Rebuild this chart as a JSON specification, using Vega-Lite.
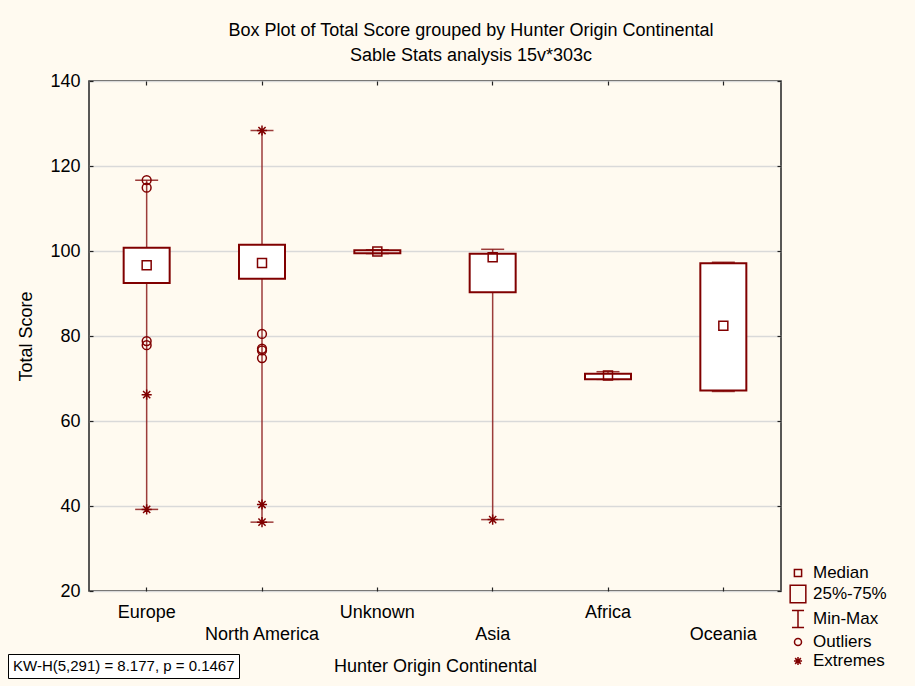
{
  "$schema": "https://vega.github.io/schema/vega-lite/v6.json",
  "width": 692,
  "height": 510,
  "autosize": {"type": "none"},
  "padding": {"left": 89, "top": 81, "right": 134, "bottom": 95},
  "background": "#fffaf0",
  "title": {
    "text": "Box Plot of Total Score grouped by  Hunter Origin Continental",
    "subtitle": "Sable Stats analysis 15v*303c",
    "font": "Liberation Sans",
    "subtitleFont": "Liberation Sans",
    "fontSize": 18,
    "subtitleFontSize": 18,
    "fontWeight": "normal",
    "color": "#000000",
    "subtitleColor": "#000000",
    "anchor": "middle",
    "dx": 36,
    "offset": 7,
    "subtitlePadding": 7
  },
  "config": {
    "font": "Liberation Sans",
    "view": {"fill": "white", "stroke": "#222222", "strokeWidth": 1.5},
    "axis": {
      "labelFont": "Liberation Sans",
      "titleFont": "Liberation Sans",
      "labelFontSize": 18,
      "titleFontSize": 18,
      "titleFontWeight": "normal",
      "labelColor": "#000000",
      "titleColor": "#000000",
      "tickColor": "#222222",
      "tickSize": -4,
      "tickWidth": 1.2,
      "domain": false
    }
  },
  "datasets": {
    "stats": [
      {"cat": "Europe", "min": 39.2, "q1": 92.5, "q3": 100.75, "max": 116.65},
      {"cat": "North America", "min": 36.2, "q1": 93.45, "q3": 101.45, "max": 128.35},
      {"cat": "Unknown", "min": 99.4, "q1": 99.5, "q3": 100.2, "max": 100.3},
      {"cat": "Asia", "min": 36.8, "q1": 90.3, "q3": 99.35, "max": 100.4},
      {"cat": "Africa", "min": 69.8, "q1": 69.85, "q3": 71.1, "max": 71.6},
      {"cat": "Oceania", "min": 66.95, "q1": 67.2, "q3": 97.1, "max": 97.35}
    ],
    "points": [
      {"cat": "Europe", "value": 96.65, "kind": "Median"},
      {"cat": "Europe", "value": 116.65, "kind": "Outliers"},
      {"cat": "Europe", "value": 114.9, "kind": "Outliers"},
      {"cat": "Europe", "value": 78.8, "kind": "Outliers"},
      {"cat": "Europe", "value": 77.85, "kind": "Outliers"},
      {"cat": "Europe", "value": 66.2, "kind": "Extremes"},
      {"cat": "Europe", "value": 39.2, "kind": "Extremes"},
      {"cat": "North America", "value": 97.2, "kind": "Median"},
      {"cat": "North America", "value": 80.5, "kind": "Outliers"},
      {"cat": "North America", "value": 77.0, "kind": "Outliers"},
      {"cat": "North America", "value": 76.6, "kind": "Outliers"},
      {"cat": "North America", "value": 74.8, "kind": "Outliers"},
      {"cat": "North America", "value": 128.35, "kind": "Extremes"},
      {"cat": "North America", "value": 40.35, "kind": "Extremes"},
      {"cat": "North America", "value": 36.2, "kind": "Extremes"},
      {"cat": "Unknown", "value": 99.9, "kind": "Median"},
      {"cat": "Asia", "value": 98.55, "kind": "Median"},
      {"cat": "Asia", "value": 36.8, "kind": "Extremes"},
      {"cat": "Africa", "value": 70.7, "kind": "Median"},
      {"cat": "Oceania", "value": 82.4, "kind": "Median"}
    ],
    "note": [
      {"note": "KW-H(5,291) = 8.177, p = 0.1467"}
    ]
  },
  "layer": [
    {
      "data": {"name": "stats"},
      "mark": {"type": "rule", "color": "#8b1a1a", "strokeWidth": 1.5, "opacity": 0.85},
      "encoding": {
        "x": {
          "field": "cat", "type": "nominal",
          "sort": ["Europe", "North America", "Unknown", "Asia", "Africa", "Oceania"],
          "scale": {"type": "band", "paddingInner": 0, "paddingOuter": 0},
          "axis": {
            "orient": "bottom",
            "title": "Hunter Origin Continental",
            "labelAngle": 0,
            "labelPadding": 16,
            "labelBaseline": "top",
            "labelLineHeight": 22,
            "labelExpr": "indexof(['North America','Asia','Oceania'], datum.value) >= 0 ? ['', datum.value] : datum.value",
            "titlePadding": 14,
            "grid": false
          }
        },
        "y": {
          "field": "min", "type": "quantitative",
          "scale": {"domain": [20, 140], "nice": false, "zero": false},
          "axis": {
            "orient": "left",
            "title": "Total Score",
            "values": [20, 40, 60, 80, 100, 120, 140],
            "labelPadding": 13,
            "titlePadding": 14,
            "grid": true,
            "gridColor": "#d9d9d9",
            "gridWidth": 1.5
          }
        },
        "y2": {"field": "max"}
      }
    },
    {
      "data": {"name": "stats"},
      "mark": {"type": "tick", "color": "#8b1a1a", "thickness": 1.5, "size": 23, "opacity": 0.85},
      "encoding": {
        "x": {
          "field": "cat", "type": "nominal",
          "sort": ["Europe", "North America", "Unknown", "Asia", "Africa", "Oceania"],
          "scale": {"type": "band", "paddingInner": 0, "paddingOuter": 0},
          "axis": {"orient": "top", "labels": false, "title": null, "grid": false}
        },
        "y": {
          "field": "max", "type": "quantitative",
          "scale": {"domain": [20, 140], "nice": false, "zero": false},
          "axis": {"orient": "right", "labels": false, "title": null, "grid": false, "values": [20, 40, 60, 80, 100, 120, 140]}
        }
      }
    },
    {
      "data": {"name": "stats"},
      "mark": {"type": "tick", "color": "#8b1a1a", "thickness": 1.5, "size": 23, "opacity": 0.85},
      "encoding": {
        "x": {
          "field": "cat", "type": "nominal",
          "sort": ["Europe", "North America", "Unknown", "Asia", "Africa", "Oceania"],
          "scale": {"type": "band", "paddingInner": 0, "paddingOuter": 0},
          "axis": null
        },
        "y": {
          "field": "min", "type": "quantitative",
          "scale": {"domain": [20, 140], "nice": false, "zero": false},
          "axis": null
        }
      }
    },
    {
      "data": {"name": "stats"},
      "mark": {"type": "bar", "fill": "white", "stroke": "#800000", "strokeWidth": 2, "width": 46},
      "encoding": {
        "x": {
          "field": "cat", "type": "nominal",
          "sort": ["Europe", "North America", "Unknown", "Asia", "Africa", "Oceania"],
          "scale": {"type": "band", "paddingInner": 0, "paddingOuter": 0},
          "axis": null
        },
        "y": {
          "field": "q1", "type": "quantitative",
          "scale": {"domain": [20, 140], "nice": false, "zero": false},
          "axis": null
        },
        "y2": {"field": "q3"}
      }
    },
    {
      "data": {"name": "points"},
      "mark": {"type": "point", "filled": false, "color": "#800000", "strokeWidth": 1.5, "size": 506, "opacity": 1},
      "encoding": {
        "x": {
          "field": "cat", "type": "nominal",
          "sort": ["Europe", "North America", "Unknown", "Asia", "Africa", "Oceania"],
          "scale": {"type": "band", "paddingInner": 0, "paddingOuter": 0},
          "axis": null
        },
        "y": {
          "field": "value", "type": "quantitative",
          "scale": {"domain": [20, 140], "nice": false, "zero": false},
          "axis": null
        },
        "shape": {
          "field": "kind", "type": "nominal",
          "scale": {
            "domain": ["Median", "25%-75%", "Min-Max", "Outliers", "Extremes"],
            "range": [
              "M-0.4,-0.4H0.4V0.4H-0.4Z",
              "M-0.87,-0.98H0.87V0.98H-0.87Z",
              "M-0.67,-0.95H0.67M0,-0.95V0.95M-0.67,0.95H0.67",
              "M-0.39,0A0.39,0.39,0,1,0,0.39,0A0.39,0.39,0,1,0,-0.39,0Z",
              "M-0.45,0H0.45M0,-0.45V0.45M-0.32,-0.32L0.32,0.32M-0.32,0.32L0.32,-0.32"
            ]
          },
          "legend": {
            "orient": "none",
            "legendX": 699,
            "legendY": 482,
            "title": null,
            "padding": 0,
            "labelFont": "Liberation Sans",
            "labelFontSize": 17,
            "labelColor": "#000000",
            "labelOffset": 5,
            "rowPadding": 1,
            "symbolSize": 324,
            "symbolStrokeColor": "#800000",
            "symbolFillColor": "transparent",
            "symbolStrokeWidth": 1.5,
            "symbolOpacity": 1
          }
        }
      }
    },
    {
      "data": {"name": "note"},
      "mark": {"type": "point", "opacity": 0},
      "encoding": {
        "color": {
          "field": "note", "type": "nominal",
          "scale": {"range": ["#000000"]},
          "legend": {
            "orient": "none",
            "legendX": -81,
            "legendY": 573,
            "title": null,
            "padding": 4,
            "strokeColor": "#000000",
            "fillColor": "white",
            "symbolSize": 0,
            "symbolOpacity": 0,
            "symbolStrokeWidth": 0,
            "labelOffset": -14,
            "labelLimit": 0,
            "labelFont": "Liberation Sans",
            "labelFontSize": 15,
            "labelColor": "#000000"
          }
        }
      }
    }
  ],
  "resolve": {"axis": {"x": "independent", "y": "independent"}}
}
